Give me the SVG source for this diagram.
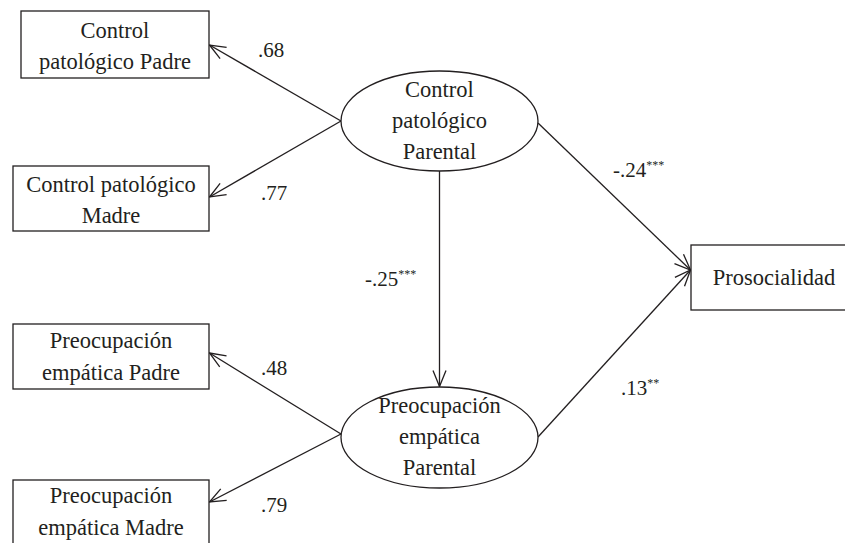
<svg xmlns="http://www.w3.org/2000/svg" width="845" height="543" viewBox="0 0 845 543">
<style>
  .box { fill: #ffffff; stroke: #231f20; stroke-width: 1.3; }
  .ell { fill: #ffffff; stroke: #231f20; stroke-width: 1.3; }
  text { font-family: 'Liberation Serif', 'Tinos', 'Times New Roman', 'DejaVu Serif', serif; fill: #231f20; }
  .lbl { font-size: 22.5px; text-anchor: middle; }
  .num { font-size: 21px; }
  .sup { font-size: 12px; }
  .conn { stroke: #231f20; stroke-width: 1.3; fill: none; marker-end: url(#arr); }
</style>
<defs>
  <marker id="arr" viewBox="-18 -8 20 16" markerWidth="20" markerHeight="16" refX="0" refY="0" orient="auto" markerUnits="userSpaceOnUse">
    <path d="M-16,-6.5 L0,0 L-16,6.5" fill="none" stroke="#231f20" stroke-width="1.3"/>
  </marker>
</defs>
<rect width="845" height="543" fill="#ffffff"/>

<g id="connectors">
  <line class="conn" x1="341" y1="121" x2="209.5" y2="45"/>
  <line class="conn" x1="341" y1="121" x2="209.5" y2="197"/>
  <line class="conn" x1="341" y1="434" x2="209.5" y2="353"/>
  <line class="conn" x1="341" y1="434" x2="209.5" y2="502"/>
  <line class="conn" x1="439.5" y1="171" x2="439.5" y2="386.5"/>
  <line class="conn" x1="538" y1="123" x2="690.5" y2="270"/>
  <line class="conn" x1="538" y1="437" x2="690.5" y2="270"/>
</g>

<g id="labels">
  <text class="num" x="258" y="57">.68</text>
  <text class="num" x="261" y="200">.77</text>
  <text class="num" x="261" y="375">.48</text>
  <text class="num" x="261" y="512">.79</text>
  <text class="num" x="613" y="177">-.24<tspan class="sup" dy="-8">***</tspan></text>
  <text class="num" x="365" y="286">-.25<tspan class="sup" dy="-8">***</tspan></text>
  <text class="num" x="621" y="395">.13<tspan class="sup" dy="-8">**</tspan></text>
</g>

<g id="cp-padre">
  <rect class="box" x="21" y="11" width="188" height="67"/>
  <text class="lbl" x="115" y="38">Control</text>
  <text class="lbl" x="115" y="69">patológico Padre</text>
</g>
<g id="cp-madre">
  <rect class="box" x="13" y="166" width="196" height="65"/>
  <text class="lbl" x="111" y="192">Control patológico</text>
  <text class="lbl" x="111" y="223">Madre</text>
</g>
<g id="pe-padre">
  <rect class="box" x="13" y="324" width="196" height="65"/>
  <text class="lbl" x="111" y="348">Preocupación</text>
  <text class="lbl" x="111" y="380">empática Padre</text>
</g>
<g id="pe-madre">
  <rect class="box" x="13" y="480" width="196" height="70"/>
  <text class="lbl" x="111" y="503">Preocupación</text>
  <text class="lbl" x="111" y="535">empática Madre</text>
</g>
<g id="cp-parental">
  <ellipse class="ell" cx="439.5" cy="121" rx="98.5" ry="50"/>
  <text class="lbl" x="439.5" y="97">Control</text>
  <text class="lbl" x="439.5" y="128">patológico</text>
  <text class="lbl" x="439.5" y="159">Parental</text>
</g>
<g id="pe-parental">
  <ellipse class="ell" cx="439.5" cy="437.5" rx="98.5" ry="50.5"/>
  <text class="lbl" x="439.5" y="413">Preocupación</text>
  <text class="lbl" x="439.5" y="444">empática</text>
  <text class="lbl" x="439.5" y="475">Parental</text>
</g>
<g id="prosocialidad">
  <rect class="box" x="691" y="245" width="160" height="65"/>
  <text class="lbl" x="774" y="285">Prosocialidad</text>
</g>
</svg>
